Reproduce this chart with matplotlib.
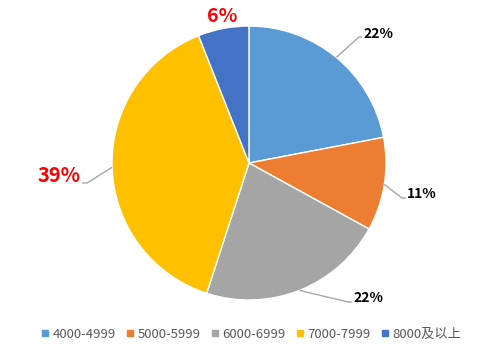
import matplotlib
matplotlib.use("Agg")
import matplotlib.pyplot as plt
from matplotlib.lines import Line2D
import numpy as np

plt.rcParams['font.family'] = ['Noto Sans CJK SC', 'DejaVu Sans']

categories = ["4000-4999", "5000-5999", "6000-6999", "7000-7999", "8000及以上"]
values = [22, 11, 22, 39, 6]
labels = ["22%", "11%", "22%", "39%", "6%"]
colors = ["#5B9BD5", "#ED7D31", "#A5A5A5", "#FFC000", "#4472C4"]

W, H = 500, 355
fig = plt.figure(figsize=(W / 100, H / 100), dpi=100)
ax = fig.add_axes([0, 0, 1, 1])
ax.set_xlim(0, W)
ax.set_ylim(0, H)
ax.set_aspect('equal')
ax.axis('off')

cx, cy, R = 249, H - 163, 137
wedges, _ = ax.pie(values, colors=colors, startangle=90, counterclock=False,
                   center=(cx, cy), radius=R,
                   wedgeprops=dict(edgecolor='white', linewidth=1.0))
ax.set_xlim(0, W)
ax.set_ylim(0, H)

# label layout (image pixel coords): elbow point, line end, text anchor, style
layout = [
    dict(elbow=(359, 37), end=(362, 37), text=(363, 34), ha='left', color='black', size=10),
    dict(elbow=(402, 198), end=(406, 198), text=(407, 194), ha='left', color='black', size=10),
    dict(elbow=(348, 302), end=(352, 302), text=(353, 298), ha='left', color='black', size=10),
    dict(elbow=(87, 183), end=(82, 183), text=(81, 176), ha='right', color='#FF0000', size=14.5),
    dict(elbow=None, end=None, text=(222, 16), ha='center', color='#FF0000', size=14),
]

for w, lab, lay in zip(wedges, labels, layout):
    mid = np.deg2rad((w.theta1 + w.theta2) / 2)
    ex, ey = cx + R * np.cos(mid), cy + R * np.sin(mid)
    if lay['elbow'] is not None:
        xs = [ex, lay['elbow'][0], lay['end'][0]]
        ys = [ey, H - lay['elbow'][1], H - lay['end'][1]]
        ax.plot(xs, ys, color='#A6A6A6', lw=1.0, solid_capstyle='butt')
    ax.text(lay['text'][0], H - lay['text'][1], lab, ha=lay['ha'], va='center',
            color=lay['color'], fontsize=lay['size'], fontweight='bold')

handles = [Line2D([], [], marker='s', linestyle='none', markersize=5,
                  markerfacecolor=c, markeredgecolor=c) for c in colors]
fig.legend(handles, categories, loc='center', bbox_to_anchor=(0.5, 1 - 334 / H),
           ncol=5, frameon=False, fontsize=9.5, labelcolor='#595959',
           handletextpad=0.1, columnspacing=0.55, handlelength=1.0)

fig.savefig("out.png", dpi=100)
